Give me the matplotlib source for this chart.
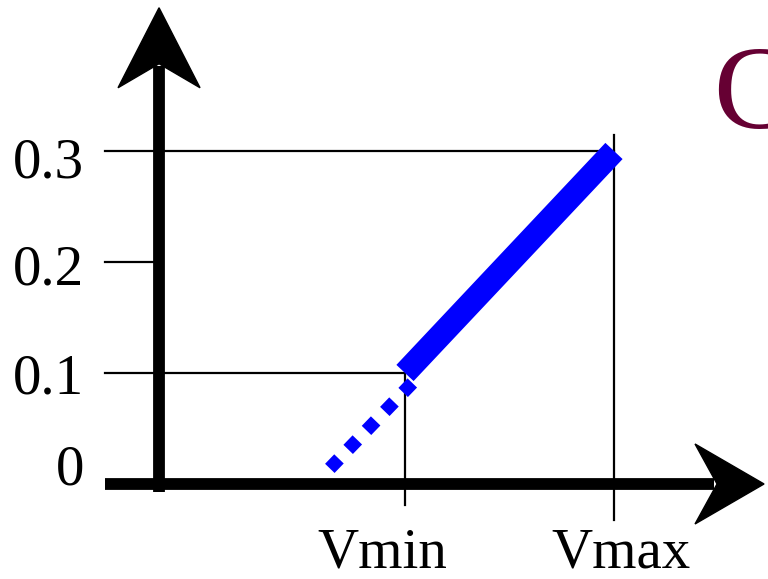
import matplotlib.pyplot as plt
import matplotlib.transforms as mtransforms
from matplotlib.patches import Polygon

# voltage positions (arbitrary units) and probability levels
v_min, v_max = 1.0, 2.0
p_levels = [0, 0.1, 0.2, 0.3]
p_labels = ["0", "0.1", "0.2", "0.3"]
v_labels = ["Vmin", "Vmax"]

# solid ramp between Vmin and Vmax
ramp_v = [v_min, v_max]
ramp_p = [0.1, 0.3]
# dotted extrapolation below Vmin
extra_v = [1.035, 0.64]
extra_p = [0.091, 0.014]

title_text = "C"

plt.rcParams['font.family'] = ['Liberation Serif', 'DejaVu Serif']

fig = plt.figure(figsize=(7.68, 5.79), dpi=100)
ax = fig.add_axes([0, 0, 1, 1])
ax.axis('off')
ax.set_xlim(-0.938, 2.737)
ax.set_ylim(-0.0856, 0.436)

# axis extents
x_left = -0.435
y_axis_x = -0.177
x_tip = 2.718
y_tip = 0.429
y_bottom = -0.007


def arrow_head(tip, verts):
    # verts are pixel offsets from the tip
    off = mtransforms.Affine2D().translate(*ax.transData.transform(tip))
    ax.add_patch(Polygon(verts, closed=True, transform=off, color='black', zorder=5))


# guide lines
guide_end = {0.1: v_min, 0.2: y_axis_x, 0.3: v_max}
for p, xe in guide_end.items():
    ax.plot([x_left, xe], [p, p], color='black', lw=1.6, zorder=1)
ax.plot([v_min, v_min], [0.1, -0.019], color='black', lw=1.6, zorder=1)
ax.plot([v_max, v_max], [0.314, -0.032], color='black', lw=1.6, zorder=1)

# axes with arrows
inv = ax.transData.inverted()
tx, ty = ax.transData.transform((x_tip, 0))
x_end = inv.transform((tx - 50, ty))[0]
ax.plot([x_left, x_end], [0, 0], color='black', lw=8.5, solid_capstyle='butt', zorder=4)
arrow_head((x_tip, 0), [(0, 0), (-69, 40), (-47, 0), (-69, -40)])

tx, ty = ax.transData.transform((y_axis_x, y_tip))
y_end = inv.transform((tx, ty - 58))[1]
ax.plot([y_axis_x, y_axis_x], [y_bottom, y_end], color='black', lw=8.5, solid_capstyle='butt', zorder=4)
arrow_head((y_axis_x, y_tip), [(0, 0), (41, -80), (0, -56), (-41, -80)])

# blue curve
ax.plot(extra_v, extra_p, color='#0000ff', lw=9.5, ls=(0, (1, 1.0)),
        dash_capstyle='butt', zorder=3)
ax.plot(ramp_v, ramp_p, color='#0000ff', lw=17, solid_capstyle='butt', zorder=3)

# labels
label_dy = [10, -5, -6, -9]
for p, lab, dy in zip(p_levels, p_labels, label_dy):
    ax.annotate(lab, (y_axis_x, p), xytext=(-54, dy), textcoords='offset points',
                ha='right', va='center', fontsize=41)
for v, lab, dx in zip([v_min, v_max], v_labels, [-16, 5]):
    ax.annotate(lab, (v, 0), xytext=(dx, -50), textcoords='offset points',
                ha='center', va='center', fontsize=41)

ax.text(2.475, 0.321, title_text, color='#660033', fontsize=86,
        ha='left', va='baseline')

fig.savefig('out.png', dpi=100)
